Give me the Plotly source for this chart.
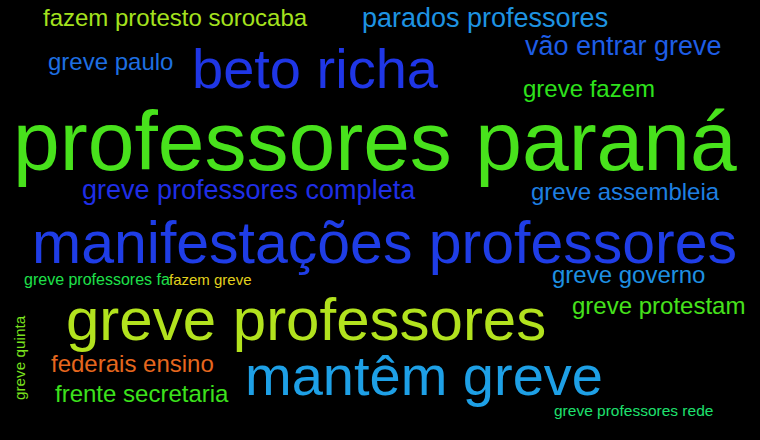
import plotly.graph_objects as go

# word cloud terms and their weights (weight -> font size)
words = [
    "professores paraná", "manifestações professores", "greve professores",
    "beto richa", "mantêm greve", "parados professores", "vão entrar greve",
    "greve professores completa", "fazem protesto sorocaba", "greve paulo",
    "greve fazem", "greve assembleia", "greve governo", "greve protestam",
    "federais ensino", "frente secretaria", "greve professores fa",
    "fazem greve", "greve professores rede", "greve quinta",
]
weights = [84, 59, 60, 56, 56, 27, 27, 27, 24, 24, 24, 24, 24, 24, 24, 24, 16, 15, 15.5, 15.3]

# layout of the cloud (pixel coords of the text centres)
pos_x = [375, 384, 306, 315, 424, 485, 623, 249, 175, 110, 589, 625, 628, 658,
         132, 142, 97, 210, 633, 19]
pos_y = [141, 243, 319, 68, 375, 17.5, 46, 190, 17.5, 61, 88.5, 191.5, 274.5, 305.5,
         363.5, 393.5, 279.5, 279.5, 410.5, 358]
angles = [0] * 19 + [-90]
colors = [
    "#48e21c", "#1f3de6", "#b2e21e", "#1f36e6", "#1ea0e6", "#1e93e2", "#1e5de6",
    "#1f2ee6", "#a4e21e", "#1e6fe2", "#2ee21c", "#1e7fe2", "#1e90e2", "#46e21c",
    "#e6671e", "#3ce21c", "#1ee04a", "#e2d21e", "#1ee06e", "#7ae21e",
]

fig = go.Figure()
for w, s, x, y, a, c in zip(words, weights, pos_x, pos_y, angles, colors):
    fig.add_annotation(
        x=x, y=y, xref="x", yref="y", text=w, showarrow=False,
        textangle=a, xanchor="center", yanchor="middle",
        font=dict(family="Liberation Sans, Arial, sans-serif", size=s, color=c),
    )

fig.update_xaxes(range=[0, 760], visible=False, fixedrange=True)
fig.update_yaxes(range=[440, 0], visible=False, fixedrange=True)
fig.update_layout(
    width=760, height=440,
    margin=dict(l=0, r=0, t=0, b=0),
    paper_bgcolor="black", plot_bgcolor="black",
    showlegend=False,
)
# drop the page's default body margin so the cloud fills the window
fig.write_html(
    "out.html",
    config={"displayModeBar": False},
    post_script="document.body.style.margin='0';document.body.style.background='black';",
)
